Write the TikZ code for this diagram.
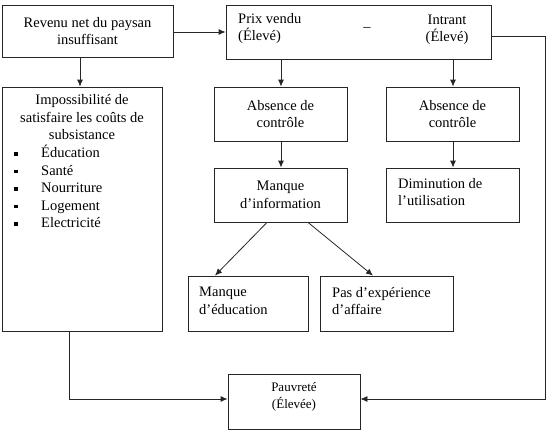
\documentclass[tikz,border=0pt]{standalone}
\usepackage{fontspec}
\setmainfont{Liberation Serif}
\usetikzlibrary{arrows.meta,calc}
\begin{document}
\begin{tikzpicture}[x=1pt,y=-1pt,
  box/.style={draw=black!85,line width=0.8pt,rectangle,inner sep=0pt},
  txt/.style={inner sep=0pt,font=\fontsize{14.5}{17.5}\selectfont},
  stxt/.style={inner sep=0pt,font=\fontsize{13}{17}\selectfont},
  arr/.style={draw=black!85,line width=0.8pt,-{Latex[length=7pt,width=6pt]}},
  ln/.style={draw=black!85,line width=0.8pt}]
\useasboundingbox (0,0) rectangle (552,434);
% boxes
\node[box,minimum width=171,minimum height=52,align=center,font=\fontsize{14.5}{17.5}\selectfont] (a) at (87.5,31) {Revenu net du paysan\\insuffisant};
\node[box,minimum width=265,minimum height=54] (b) at (358.5,32) {};
\node[txt,anchor=north west,align=left] (bl) at (238,13) {Prix vendu\\(Élevé)};
\node[txt,align=center] (br) at (447,30) {Intrant\\(Élevé)};
\node[txt] (bm) at (367,29.5) {–};
\node[box,minimum width=160,minimum height=244] (c) at (82,209) {};
\node[txt,anchor=north,align=center] (ct) at (82,94.5) {Impossibilité de\\satisfaire les coûts de\\subsistance};
\node[txt,anchor=north west,align=left] (cl) at (14,145) {%
\makebox[27pt][l]{\rule[2pt]{3.6pt}{3.6pt}}Éducation\\
\makebox[27pt][l]{\rule[2pt]{3.6pt}{3.6pt}}Santé\\
\makebox[27pt][l]{\rule[2pt]{3.6pt}{3.6pt}}Nourriture\\
\makebox[27pt][l]{\rule[2pt]{3.6pt}{3.6pt}}Logement\\
\makebox[27pt][l]{\rule[2pt]{3.6pt}{3.6pt}}Electricité};
\node[box,minimum width=133,minimum height=54,align=center,font=\fontsize{14.5}{17.5}\selectfont] (d) at (280.5,114) {Absence de\\contrôle};
\node[box,minimum width=133,minimum height=54,align=center,font=\fontsize{14.5}{17.5}\selectfont] (e) at (452.5,114) {Absence de\\contrôle};
\node[box,minimum width=133,minimum height=54,align=center,font=\fontsize{14.5}{17.5}\selectfont] (f) at (280.5,195) {Manque\\d’information};
\node[box,minimum width=133,minimum height=54] (g) at (452.5,195) {};
\node[txt,anchor=west,align=left] (gt) at (398,192) {Diminution de\\l’utilisation};
\node[box,minimum width=120,minimum height=55] (h) at (248,303.5) {};
\node[txt,anchor=west,align=left] (ht) at (199,301) {Manque\\d’éducation};
\node[box,minimum width=133,minimum height=55] (i) at (386.5,303.5) {};
\node[txt,anchor=west,align=left] (it) at (332,301) {Pas d’expérience\\d’affaire};
\node[box,minimum width=132,minimum height=55] (p) at (294,401.5) {};
\node[stxt,align=center] (pt) at (294,397) {Pauvreté\\(Élevée)};
% connectors
\draw[arr] (a.east |- 0,32) -- (b.west |- 0,32);
\draw[arr] (a.south -| 80,0) -- (c.north -| 80,0);
\draw[arr] (b.south -| 281,0) -- (d.north -| 281,0);
\draw[arr] (b.south -| 453,0) -- (e.north -| 453,0);
\draw[arr] (d.south -| 281,0) -- (f.north -| 281,0);
\draw[arr] (e.south -| 453,0) -- (g.north -| 453,0);
\draw[arr] (f.south -| 267,0) -- (h.north -| 215,0);
\draw[arr] (f.south -| 308,0) -- (i.north -| 373,0);
\draw[arr] (c.south -| 69,0) |- (p.west |- 0,399);
\draw[arr] (b.east |- 0,36) -| (545,399) -- (p.east |- 0,399);
\end{tikzpicture}
\end{document}
